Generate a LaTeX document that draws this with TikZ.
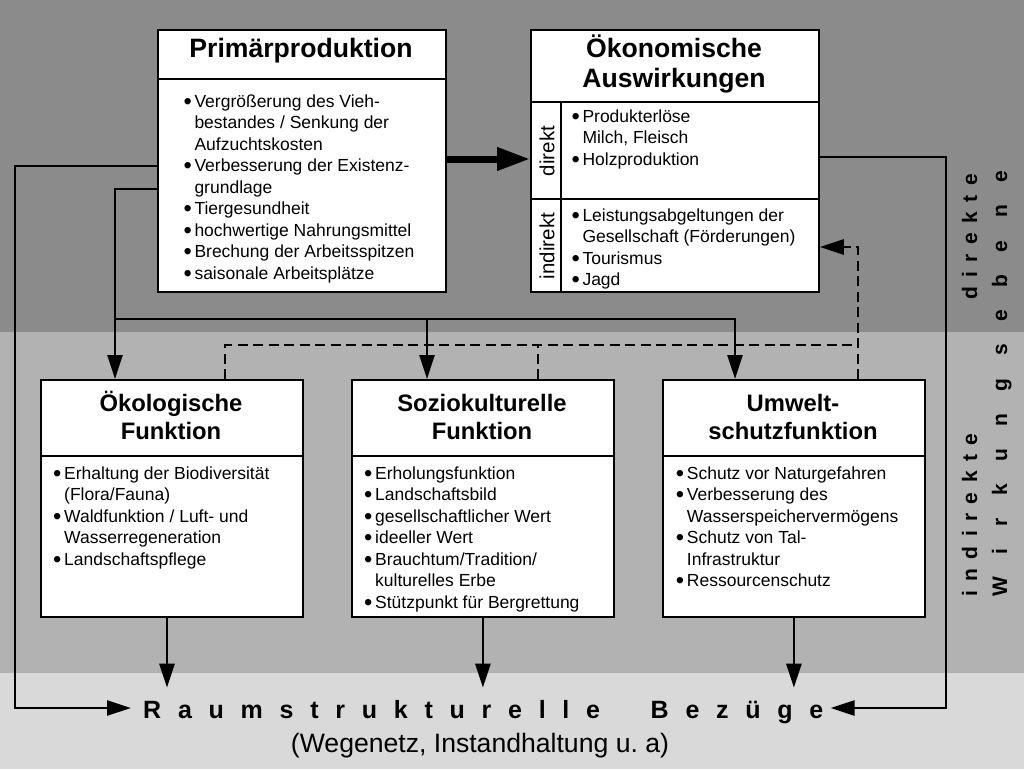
\documentclass[tikz,border=0pt]{standalone}
\usepackage{fontspec}
\setmainfont{Liberation Sans}
\usetikzlibrary{arrows.meta}
\definecolor{bandA}{gray}{0.545}
\definecolor{bandB}{gray}{0.70}
\definecolor{bandC}{gray}{0.85}
\newcommand{\bl}{\makebox[11pt][l]{\smash{\raisebox{-1.9pt}{\scalebox{1.35}{\textbullet}}}}}
\newcommand{\ind}{\hspace*{11pt}}
\newcommand{\bstrut}{\rule{0pt}{16pt}}
\newcommand{\tstrut}{\rule{0pt}{26pt}}
\newcommand{\lstrut}{\rule{0pt}{23.5pt}}
\begin{document}
\begin{tikzpicture}[x=1pt,y=-1pt,
  box/.style={draw=black, line width=1.8pt, fill=white, anchor=north west, inner sep=0pt},
  sepline/.style={line width=1.8pt},
  conn/.style={line width=2.6pt},
  arr/.style={conn, -{Triangle[length=24pt,width=15pt]}},
  dsh/.style={line width=2.6pt, dash pattern=on 10pt off 5.5pt},
  body/.style={font=\fontsize{17.5}{21.5}\selectfont, align=left, anchor=north west, inner sep=0pt},
  ttl/.style={font=\bfseries\fontsize{26.6}{30}\selectfont, align=center, inner sep=0pt},
  ttlb/.style={font=\bfseries\fontsize{23.8}{28}\selectfont, align=center, inner sep=0pt, anchor=north},
  lab/.style={font=\fontsize{20.5}{24}\selectfont, rotate=90, inner sep=0pt},
  side/.style={rotate=90, inner sep=0pt, anchor=base west}
]
\useasboundingbox (0,0) rectangle (1024,769);
% background bands
\fill[bandA] (0,0) rectangle (1024,332);
\fill[bandB] (0,332) rectangle (1024,673);
\fill[bandC] (0,673) rectangle (1024,769);

% ---------- boxes ----------
\node[box, minimum width=288pt, minimum height=262pt] (prim) at (157,29) {};
\node[box, minimum width=288pt, minimum height=262pt] (oek) at (530,29) {};
\node[box, minimum width=262pt, minimum height=237pt] (oekol) at (40,379) {};
\node[box, minimum width=262pt, minimum height=237pt] (sozio) at (351,379) {};
\node[box, minimum width=262pt, minimum height=237pt] (umw) at (662,379) {};

% separators
\draw[sepline] (157,79) -- (445,79);
\draw[sepline] (530,102) -- (818,102);
\draw[sepline] (530,199) -- (818,199);
\draw[sepline] (561,102) -- (561,291);
\draw[sepline] (40,456) -- (302,456);
\draw[sepline] (351,456) -- (613,456);
\draw[sepline] (662,456) -- (924,456);

% titles
\node[ttl, anchor=base] (primT) at (301,57) {Primärproduktion};
\node[ttl, anchor=north] (oekT) at (674,31) {\tstrut Ökonomische\\Auswirkungen};
\node[ttlb] (oekolT) at (171,387.5) {\lstrut Ökologische\\Funktion};
\node[ttlb] (sozioT) at (482,387.5) {\lstrut Soziokulturelle\\Funktion};
\node[ttlb] (umwT) at (793,387.5) {\lstrut Umwelt-\\schutzfunktion};

% body texts
\node[body] (primB) at (183.3,91) {\bstrut\bl Vergrößerung des Vieh-\\\ind bestandes / Senkung der\\\ind Aufzuchtskosten\\\bl Verbesserung der Existenz-\\\ind grundlage\\\bl Tiergesundheit\\\bl hochwertige Nahrungsmittel\\\bl Brechung der Arbeitsspitzen\\\bl saisonale Arbeitsplätze};
\node[body] (oekD) at (571.3,106) {\bstrut\bl Produkterlöse\\\ind Milch, Fleisch\\\bl Holzproduktion};
\node[body] (oekI) at (571.3,205) {\bstrut\bl Leistungsabgeltungen der\\\ind Gesellschaft (Förderungen)\\\bl Tourismus\\\bl Jagd};
\node[lab] (dlab) at (547,151) {direkt};
\node[lab] (ilab) at (547,246) {indirekt};
\node[body] (oekolB) at (53,463) {\bstrut\bl Erhaltung der Biodiversität\\\ind (Flora/Fauna)\\\bl Waldfunktion / Luft- und\\\ind Wasserregeneration\\\bl Landschaftspflege};
\node[body] (sozioB) at (364,463) {\bstrut\bl Erholungsfunktion\\\bl Landschaftsbild\\\bl gesellschaftlicher Wert\\\bl ideeller Wert\\\bl Brauchtum/Tradition/\\\ind kulturelles Erbe\\\bl Stützpunkt für Bergrettung};
\node[body] (umwB) at (675.7,463) {\bstrut\bl Schutz vor Naturgefahren\\\bl Verbesserung des\\\ind Wasserspeichervermögens\\\bl Schutz von Tal-\\\ind Infrastruktur\\\bl Ressourcenschutz};

% bottom texts
\node[font={\bfseries\fontsize{25}{30}\selectfont\addfontfeature{LetterSpace=67}}, anchor=base west, inner xsep=12pt, inner ysep=12pt] (raum) at (131,718) {Raumstrukturelle \hspace{27pt}Bezüge\hspace*{-5pt}};
\node[font=\fontsize{26.6}{30}\selectfont, anchor=base, inner sep=0pt] (weg) at (480,752) {(Wegenetz, Instandhaltung u.\ a)};

% side labels
\node[side, font={\bfseries\fontsize{21}{24}\selectfont\addfontfeature{LetterSpace=45}}] (sDir) at (977,300) {direkte};
\node[side, font={\bfseries\fontsize{21}{24}\selectfont\addfontfeature{LetterSpace=45}}] (sInd) at (977,597) {indirekte};
\node[side, font={\bfseries\fontsize{21}{24}\selectfont\addfontfeature{LetterSpace=107}}] (sWir) at (1007,597) {Wirkungsebene};

% ---------- connectors ----------
\draw[line width=7pt, -{Triangle[length=33pt,width=22pt]}] (prim.east |- 0,159) -- (oek.west |- 0,159);
\draw[arr] (prim.west |- 0,166) -- (15,166) -- (15,708) -- (raum.west |- 0,708);
\draw[arr] (oek.east |- 0,157) -- (946,157) -- (946,708) -- (raum.east |- 0,708);
\draw[arr] (prim.west |- 0,189) -- (115,189) -- (oekol.north -| 115,0);
\coordinate (j1) at (115,319);
\coordinate (j2) at (427,319);
\draw[arr] (j1) -- (735,319) -- (umw.north -| 735,0);
\draw[arr] (j2) -- (sozio.north -| 427,0);
% dashed feedback
\draw[dsh] (oekol.north -| 225,0) -- (225,345) -- (858,345);
\draw[dsh] (sozio.north -| 538,0) -- (538,345);
\draw[dsh, -{Triangle[length=24pt,width=15pt]}] (umw.north -| 858,0) -- (858,247) -- (oek.east |- 0,247);
% down to raum
\draw[arr] (oekol.south -| 167,0) -- (raum.north -| 167,0);
\draw[arr] (sozio.south) -- (raum.north -| sozio.south);
\draw[arr] (umw.south) -- (raum.north -| umw.south);
\end{tikzpicture}
\end{document}
